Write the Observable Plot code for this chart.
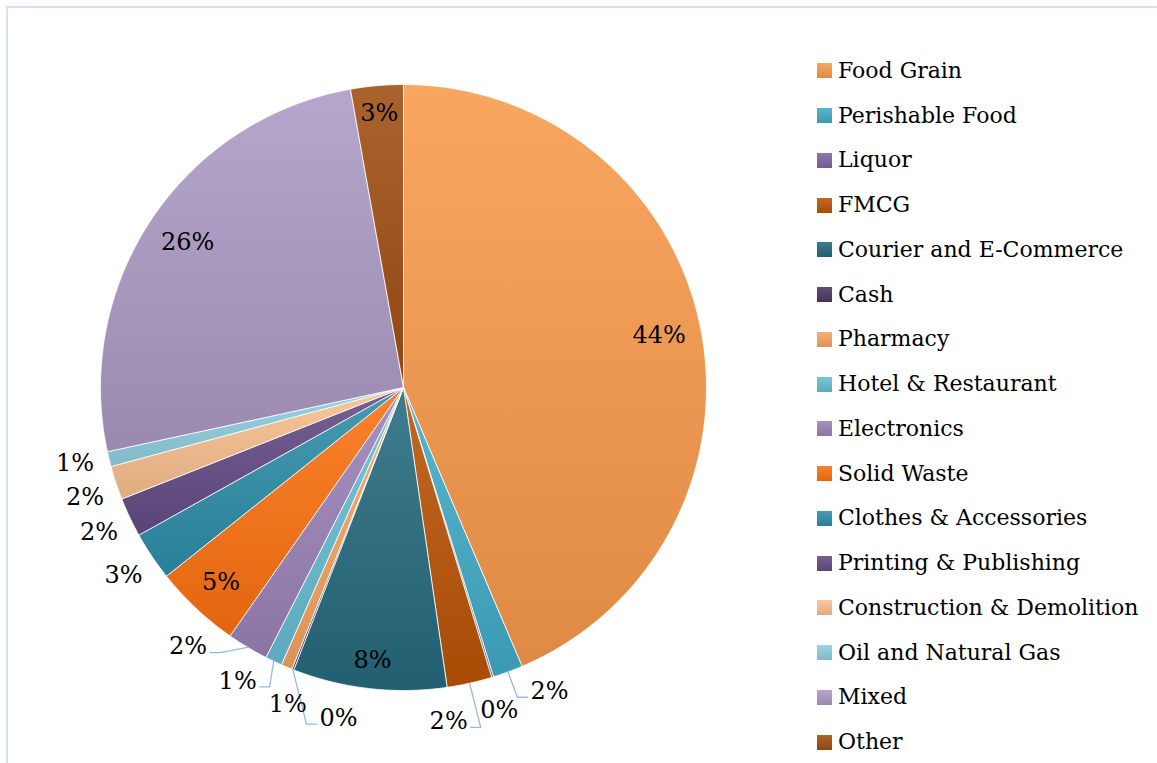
<!DOCTYPE html>
<html>
<head>
<meta charset="utf-8">
<script src="https://cdn.jsdelivr.net/npm/d3@7"></script>
<script src="https://cdn.jsdelivr.net/npm/@observablehq/plot@0.6"></script>
<style>
html,body{margin:0;padding:0;background:#fff;}
#wrap{position:relative;width:1157px;height:763px;overflow:hidden;font-family:"DejaVu Serif",serif;}
#frame{position:absolute;left:6px;top:6px;width:1200px;height:800px;border-top:2px solid #d5e2f3;border-left:2px solid #d5e2f3;}
#chart{position:absolute;left:0;top:0;}
#legend{position:absolute;left:817px;top:48.6px;}
.row{display:flex;align-items:center;height:44.75px;white-space:nowrap;}
.sw{width:15px;height:15px;margin-right:6px;flex:none;}
.lt{font-size:22px;color:#000;line-height:1;}
</style>
</head>
<body>
<div id="wrap"><div id="frame"></div><div id="chart"></div><div id="legend"></div></div>
<script>
const categories = ["Food Grain","Perishable Food","Liquor","FMCG","Courier and E-Commerce","Cash","Pharmacy","Hotel & Restaurant","Electronics","Solid Waste","Clothes & Accessories","Printing & Publishing","Construction & Demolition","Oil and Natural Gas","Mixed","Other"];
const shares = [43.6, 1.6, 0.1, 2.4, 8.2, 0.1, 0.6, 0.9, 2.2, 4.6, 2.6, 2.1, 1.8, 0.8, 25.6, 2.8];
const colors = ["#F89A4C","#42ABC7","#8064A2","#BA5406","#256A7E","#4A3961","#F5A462","#68BDD3","#9A82B8","#FB7110","#2D8DA8","#644C84","#F8BF8E","#90CEDF","#AB9AC4","#A04E12"];

const W = 800, H = 763, CX = 403, CY = 387, R = 303;
const outerR = R + 34;
const lighten = c => d3.interpolateRgb(c, "#fff")(0.12);
const darken = c => d3.color(c).darker(0.3).formatHex();

const arcs = d3.pie().sort(null).value(d => d)(shares);
const ctx = document.createElement("canvas").getContext("2d");
ctx.font = '24px "DejaVu Serif"';

const items = categories.map((name, i) => {
  const a0 = arcs[i].startAngle, a1 = arcs[i].endAngle;
  const text = Math.round(shares[i]) + "%";
  const tw = ctx.measureText(text).width;
  return {name, i, share: shares[i], a0, a1, mid: (a0 + a1) / 2, text, tw, w: tw + 12, h: 34, inside: shares[i] > 2.7};
});

// slice polygons (data units, y up)
const slicePts = [];
items.forEach(d => {
  slicePts.push({name: d.name, x: 0, y: 0, fill: `url(#g${d.i})`});
  const n = Math.max(2, Math.ceil((d.a1 - d.a0) / 0.01));
  for (let k = 0; k <= n; k++) {
    const a = d.a0 + (d.a1 - d.a0) * k / n;
    slicePts.push({name: d.name, x: Math.sin(a), y: Math.cos(a), fill: `url(#g${d.i})`});
  }
  slicePts.push({name: d.name, x: 0, y: 0, fill: `url(#g${d.i})`});
});

// inside labels: box kept just within the rim
items.filter(d => d.inside).forEach(d => {
  const ext = Math.abs(Math.sin(d.mid)) * (d.tw / 2 + 2) + Math.abs(Math.cos(d.mid)) * 15;
  const r = R - ext - 11;
  d.px = r * Math.sin(d.mid); d.py = -r * Math.cos(d.mid);
});
// outside labels: spread along the circle until boxes no longer overlap
const outs = items.filter(d => !d.inside).sort((a, b) => a.mid - b.mid);
outs.forEach(d => { d.ang = d.mid; });
const pos = d => [outerR * Math.sin(d.ang), -outerR * Math.cos(d.ang)];
const overlap = (a, b) => {
  const [ax, ay] = pos(a), [bx, by] = pos(b);
  return Math.abs(ax - bx) < (a.w + b.w) / 2 && Math.abs(ay - by) < (a.h + b.h) / 2;
};
const step = 0.1 * Math.PI / 180;
for (let iter = 0; iter < 3000; iter++) {
  let moved = false;
  for (let k = 0; k < outs.length; k++) {
    for (let j = k + 1; j < outs.length; j++) {
      if (overlap(outs[k], outs[j])) { outs[k].ang -= step; outs[j].ang += step; moved = true; }
    }
  }
  if (!moved) break;
}
outs.forEach(d => {
  [d.px, d.py] = pos(d);
  d.moved = Math.abs(d.ang - d.mid) * outerR > 20;
});

const labelPts = items.map(d => ({name: d.name, text: d.text, x: d.px / R, y: -d.py / R}));
const leaderPts = [];
outs.filter(d => d.moved).forEach(d => {
  const sx = R * Math.sin(d.mid), sy = -R * Math.cos(d.mid);
  const ay = d.py + 6;
  let ex, bx;
  if (d.px > sx) { ex = d.px - d.tw / 2 - 3; bx = ex - 10; }
  else { ex = d.px + d.tw / 2 + 3; bx = ex + 10; }
  [[sx, sy], [bx, ay], [ex, ay]].forEach(([x, y]) => leaderPts.push({name: d.name, x: x / R, y: -y / R}));
});

const svg = Plot.plot({
  width: W, height: H, margin: 0,
  x: {domain: [-CX / R, (W - CX) / R], axis: null},
  y: {domain: [-(H - CY) / R, CY / R], axis: null},
  color: {type: "identity"},
  style: {background: "transparent"},
  marks: [
    Plot.line(slicePts, {x: "x", y: "y", z: "name", fill: "fill", stroke: "#fff", strokeWidth: 0.8, strokeLinejoin: "round", curve: "linear"}),
    Plot.line(leaderPts, {x: "x", y: "y", z: "name", stroke: "#94b9e5", strokeWidth: 1.3, curve: "linear"}),
    Plot.text(labelPts, {x: "x", y: "y", text: "text", fontSize: 24, fontFamily: "DejaVu Serif", fill: "#000"})
  ]
});

const defs = d3.select(svg).insert("defs", ":first-child");
colors.forEach((c, i) => {
  const g = defs.append("linearGradient").attr("id", `g${i}`).attr("x1", 0).attr("y1", 0).attr("x2", 0).attr("y2", 1);
  g.append("stop").attr("offset", "0%").attr("stop-color", lighten(c));
  g.append("stop").attr("offset", "100%").attr("stop-color", darken(c));
});
document.getElementById("chart").appendChild(svg);

const legend = d3.select("#legend");
categories.forEach((name, i) => {
  const row = legend.append("div").attr("class", "row");
  row.append("div").attr("class", "sw").style("background", `linear-gradient(to bottom, ${lighten(colors[i])}, ${darken(colors[i])})`);
  row.append("div").attr("class", "lt").text(name);
});
</script>
</body>
</html>
